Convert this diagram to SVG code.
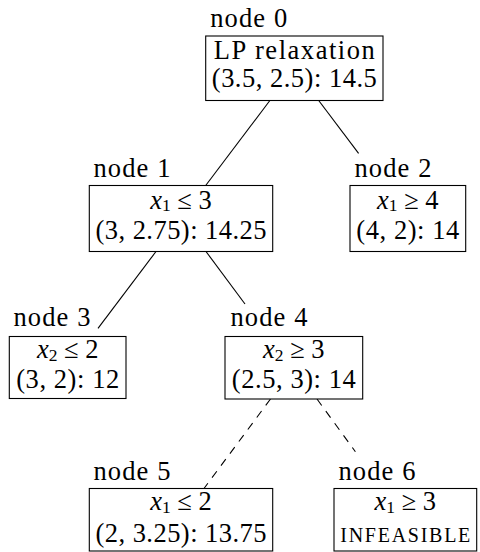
<svg xmlns="http://www.w3.org/2000/svg" width="480" height="552" viewBox="0 0 480 552">
<style>
text { font-family: "Liberation Serif", "DejaVu Serif", serif; font-size: 26.5px; fill: #000; }
.c { text-anchor: middle; }
.box { fill: #fff; stroke: #000; stroke-width: 1.1; }
.edge { fill: none; stroke: #000; stroke-width: 1.1; }
.dash { stroke-dasharray: 8 7; }
.it { font-style: italic; }
.sub { font-size: 17.5px; }
.sc { font-size: 20px; }
</style>
<rect x="0" y="0" width="480" height="552" fill="#fff"/>
<g id="connectors">
  <line class="edge" x1="269.9" y1="100.5" x2="205.7" y2="185.5"/>
  <line class="edge" x1="318.7" y1="100.5" x2="358.6" y2="153.3"/>
  <line class="edge" x1="156" y1="251.5" x2="98" y2="328.3"/>
  <line class="edge" x1="206" y1="251.5" x2="245" y2="304"/>
  <line class="edge dash" x1="270.5" y1="399" x2="204" y2="488.5"/>
  <line class="edge dash" x1="317" y1="399" x2="355.4" y2="451.7"/>
</g>
<g id="node0">
  <text x="210.2" y="26.5" textLength="77">node 0</text>
  <rect class="box" x="205.7" y="36" width="177.3" height="64.5"/>
  <text class="c" x="294.3" y="58.5" textLength="161">LP relaxation</text>
  <text class="c" x="294.3" y="87" textLength="165">(3.5, 2.5): 14.5</text>
</g>
<g id="node1">
  <text x="93.5" y="177" textLength="77">node 1</text>
  <rect class="box" x="89.3" y="185.5" width="183.4" height="66"/>
  <text class="c" x="181" y="208.5"><tspan class="it">x</tspan><tspan class="sub" dy="2.5">1</tspan><tspan dy="-2.5"> ≤ 3</tspan></text>
  <text class="c" x="181" y="239" textLength="171">(3, 2.75): 14.25</text>
</g>
<g id="node2">
  <text x="354.5" y="177" textLength="77">node 2</text>
  <rect class="box" x="350" y="185.5" width="115.7" height="66"/>
  <text class="c" x="407.8" y="208.5"><tspan class="it">x</tspan><tspan class="sub" dy="2.5">1</tspan><tspan dy="-2.5"> ≥ 4</tspan></text>
  <text class="c" x="407.8" y="239" textLength="103">(4, 2): 14</text>
</g>
<g id="node3">
  <text x="13.5" y="326" textLength="77">node 3</text>
  <rect class="box" x="9.3" y="336.5" width="116.7" height="62"/>
  <text class="c" x="67.7" y="358"><tspan class="it">x</tspan><tspan class="sub" dy="2.5">2</tspan><tspan dy="-2.5"> ≤ 2</tspan></text>
  <text class="c" x="67.7" y="388" textLength="103">(3, 2): 12</text>
</g>
<g id="node4">
  <text x="230.5" y="326" textLength="77">node 4</text>
  <rect class="box" x="225" y="336.5" width="137.7" height="62.5"/>
  <text class="c" x="293.8" y="358"><tspan class="it">x</tspan><tspan class="sub" dy="2.5">2</tspan><tspan dy="-2.5"> ≥ 3</tspan></text>
  <text class="c" x="293.8" y="388" textLength="124">(2.5, 3): 14</text>
</g>
<g id="node5">
  <text x="93.5" y="480" textLength="77">node 5</text>
  <rect class="box" x="89.3" y="488.5" width="183.4" height="62.5"/>
  <text class="c" x="181" y="510"><tspan class="it">x</tspan><tspan class="sub" dy="2.5">1</tspan><tspan dy="-2.5"> ≤ 2</tspan></text>
  <text class="c" x="181" y="541.5" textLength="171">(2, 3.25): 13.75</text>
</g>
<g id="node6">
  <text x="338.5" y="480" textLength="77">node 6</text>
  <rect class="box" x="334" y="488.5" width="142.7" height="62.5"/>
  <text class="c" x="405.3" y="510"><tspan class="it">x</tspan><tspan class="sub" dy="2.5">1</tspan><tspan dy="-2.5"> ≥ 3</tspan></text>
  <text class="c sc" x="405.3" y="541.5" textLength="130">INFEASIBLE</text>
</g>
</svg>
